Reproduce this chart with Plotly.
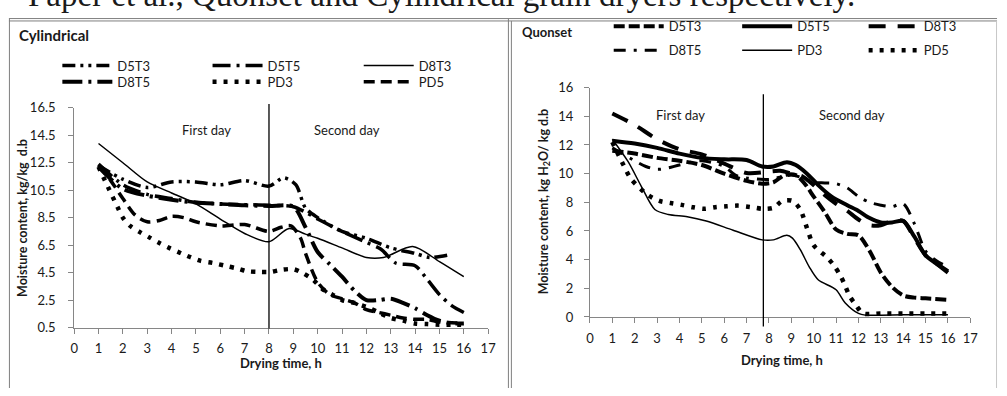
import plotly.graph_objects as go

W, H = 1007, 396

# ---------------- data: Cylindrical ----------------
series_names = ["D5T3", "D5T5", "D8T3", "D8T5", "PD3", "PD5"]

cyl_D5T3_x = [1, 2, 3, 4, 5, 6, 7, 8, 8.6, 9.1, 9.5, 10, 11, 12, 13, 14, 14.6, 15.4]
cyl_D5T3_y = [12.3, 11.3, 10.7, 11.1, 11.1, 10.9, 11.2, 10.8, 11.4, 10.9, 9.2, 8.5, 7.5, 7.0, 6.3, 5.9, 5.6, 5.8]

cyl_D5T5_x = [1, 2, 3, 4, 5, 6, 7, 8, 9, 9.5, 10, 11, 12, 12.6, 13.2, 14, 14.5, 15, 15.5, 16]
cyl_D5T5_y = [12.4, 10.9, 10.2, 9.9, 9.6, 9.5, 9.45, 9.4, 9.3, 8.9, 8.4, 7.5, 6.7, 6.2, 5.2, 5.0, 4.0, 2.9, 2.1, 1.6]

cyl_D8T3_x = [1, 2, 3, 4, 5, 6, 7, 8, 8.8, 9.5, 10, 11, 12, 12.7, 13.9, 15, 16]
cyl_D8T3_y = [13.9, 12.5, 11.1, 10.3, 9.5, 8.4, 7.35, 6.75, 7.7, 7.3, 7.0, 6.3, 5.6, 5.6, 6.4, 5.3, 4.2]

cyl_D8T5_x = [1, 2, 3, 4, 5, 6, 7, 8, 9, 9.5, 10, 10.5, 11, 11.5, 12, 12.5, 13, 13.5, 14, 14.5, 15, 15.5, 16]
cyl_D8T5_y = [12.2, 10.6, 10.1, 9.8, 9.6, 9.5, 9.4, 9.35, 9.3, 7.8, 6.0, 5.1, 4.2, 3.2, 2.5, 2.5, 2.6, 2.3, 1.9, 1.4, 1.0, 0.8, 0.8]

cyl_PD3_x = [1, 1.4, 1.8, 2, 2.3, 2.7, 3.1, 3.5, 3.9, 4.4, 4.8, 5.2, 5.7, 6.2, 6.7, 7.1, 7.6, 8.05, 8.5, 9,
             9.4, 9.8, 10.2, 10.6, 11, 11.5, 12, 12.5, 13, 13.5, 14, 14.5, 15, 15.5, 16]
cyl_PD3_y = [12.2, 10.7, 9.2, 8.5, 7.9, 7.45, 7.05, 6.65, 6.3, 5.9, 5.6, 5.35, 5.2, 5.0, 4.8, 4.6, 4.55, 4.55, 4.7, 4.75,
             4.45, 4.0, 3.3, 2.9, 2.5, 2.3, 2.0, 1.6, 1.2, 1.0, 0.8, 0.75, 0.7, 0.7, 0.7]

cyl_PD5_x = [1, 1.5, 2, 2.5, 3, 3.5, 4, 4.5, 5, 6, 7, 8, 8.5, 8.9, 9.3, 9.5, 10, 10.5, 11, 11.5, 12, 12.5,
             13, 13.5, 14, 14.5, 15, 15.5, 16]
cyl_PD5_y = [12.3, 11.2, 9.9, 8.7, 8.2, 8.3, 8.6, 8.5, 8.2, 7.9, 8.0, 7.5, 7.8, 7.9, 7.0, 5.9, 3.8, 2.9, 2.6, 2.3, 1.8, 1.6,
             1.4, 1.2, 1.1, 1.1, 0.9, 0.85, 0.8]

# ---------------- data: Quonset ----------------
q_D5T3_x = [1, 2, 3, 4, 5, 6, 7, 7.7, 8.2, 8.7, 9.2, 9.6, 10, 10.5, 11, 11.5, 12, 12.5, 13, 13.5, 14, 14.5, 15, 16]
q_D5T3_y = [11.6, 11.4, 11.1, 10.9, 10.6, 10.0, 9.5, 9.3, 9.4, 9.9, 9.9, 9.3, 8.4, 7.3, 6.1, 5.8, 5.7, 4.6, 3.1, 2.1, 1.5, 1.35, 1.3, 1.2]

q_D5T5_x = [1, 2, 3, 4, 5, 6, 7, 7.7, 8.2, 8.8, 9.2, 9.7, 10.2, 10.8, 11.5, 12, 12.5, 13, 13.5, 14, 14.5, 15, 15.5, 16]
q_D5T5_y = [12.3, 12.1, 11.8, 11.4, 11.1, 11.0, 10.95, 10.5, 10.5, 10.8, 10.6, 10.0, 9.2, 8.4, 7.8, 7.4, 6.9, 6.6, 6.6, 6.7, 5.6, 4.3, 3.7, 3.1]

q_D8T3_x = [1, 2, 3, 4, 5, 6, 7, 8, 8.5, 9, 9.5, 10, 10.5, 11, 11.5, 12, 12.5, 13, 13.5, 14, 14.5, 15, 15.5, 16]
q_D8T3_y = [14.2, 13.4, 12.4, 11.7, 11.35, 10.7, 10.05, 10.15, 10.2, 10.0, 9.8, 9.2, 8.5, 7.9, 7.4, 6.8, 6.4, 6.4, 6.7, 6.7, 5.5, 4.3, 3.7, 3.2]

q_D8T5_x = [1, 2, 2.5, 3, 3.5, 4, 5, 6, 6.5, 7, 8, 9, 9.5, 10, 10.5, 11, 11.5, 12, 12.5, 13, 13.5, 14, 14.5, 15, 15.5, 16]
q_D8T5_y = [11.8, 10.9, 10.5, 10.3, 10.4, 10.6, 10.9, 10.5, 9.9, 9.7, 9.6, 9.9, 9.7, 9.4, 9.35, 9.3, 9.0, 8.4, 8.0, 7.8, 7.7, 7.9, 6.5, 4.6, 3.9, 3.5]

q_PD3_x = [1, 1.7, 2.3, 2.9, 3.5, 4.35, 5.2, 6.4, 7.7, 8.2, 8.8, 9.05, 9.4, 9.8, 10.2, 11, 11.4, 12, 12.3, 13, 14, 15, 16]
q_PD3_y = [12.4, 10.85, 9.1, 7.5, 7.15, 7.0, 6.7, 6.05, 5.38, 5.38, 5.7, 5.5, 4.7, 3.5, 2.6, 1.9, 1.0, 0.25, 0.13, 0.13, 0.15, 0.15, 0.15]

q_PD5_x = [1, 1.5, 1.85, 2.6, 3.1, 3.6, 4.1, 4.6, 5.1, 5.6, 6.1, 6.6, 7.15, 7.7, 8.2, 8.6, 9.05, 9.4, 9.7, 10, 10.6,
           10.9, 11.2, 11.4, 11.6, 11.9, 12.2, 13, 14, 15, 16]
q_PD5_y = [12.2, 10.6, 9.6, 8.5, 8.1, 7.95, 7.82, 7.66, 7.55, 7.66, 7.72, 7.77, 7.68, 7.55, 7.62, 8.1, 8.1, 7.5, 6.2, 5.0, 4.15,
           3.6, 2.86, 2.2, 1.47, 0.8, 0.25, 0.25, 0.25, 0.25, 0.25]

x_ticks = list(range(0, 18))
cyl_y_ticks = [0.5, 2.5, 4.5, 6.5, 8.5, 10.5, 12.5, 14.5, 16.5]
q_y_ticks = [0, 2, 4, 6, 8, 10, 12, 14, 16]
cyl_day_split = 8
q_day_split = 7.75

# ---------------- styles ----------------
cyl_styles = {
    "D5T3": dict(width=3.5, dash="13px,5px,3px,5px,3px,5px"),
    "D5T5": dict(width=3.5, dash="18px,6px,3px,6px"),
    "D8T3": dict(width=1.5, dash="solid"),
    "D8T5": dict(width=4, dash="20px,6px,3px,6px"),
    "PD3": dict(width=4.5, dash="4px,7px"),
    "PD5": dict(width=3.5, dash="11px,6px"),
}
q_styles = {
    "D5T3": dict(width=4, dash="11px,4px"),
    "D5T5": dict(width=4, dash="solid"),
    "D8T3": dict(width=4, dash="17px,12px"),
    "D8T5": dict(width=3, dash="12px,8px,3px,8px"),
    "PD3": dict(width=1.5, dash="solid"),
    "PD5": dict(width=4.5, dash="4px,7px"),
}

cyl_data = {
    "D5T3": (cyl_D5T3_x, cyl_D5T3_y), "D5T5": (cyl_D5T5_x, cyl_D5T5_y),
    "D8T3": (cyl_D8T3_x, cyl_D8T3_y), "D8T5": (cyl_D8T5_x, cyl_D8T5_y),
    "PD3": (cyl_PD3_x, cyl_PD3_y), "PD5": (cyl_PD5_x, cyl_PD5_y),
}
q_data = {
    "D5T3": (q_D5T3_x, q_D5T3_y), "D5T5": (q_D5T5_x, q_D5T5_y),
    "D8T3": (q_D8T3_x, q_D8T3_y), "D8T5": (q_D8T5_x, q_D8T5_y),
    "PD3": (q_PD3_x, q_PD3_y), "PD5": (q_PD5_x, q_PD5_y),
}

FONT = "Lato"
TXT = "#1a1a1a"
AX = "#868686"

def px(x):
    return x / W

def py(y):
    return 1 - y / H

# legend placement (pixel positions of legend item start, row centre)
cyl_leg_pos = {"D5T3": (54, 60), "D5T5": (206, 60), "D8T3": (359, 60),
               "D8T5": (54, 77), "PD3": (206, 77), "PD5": (359, 77)}
q_leg_pos = {"D5T3": (612, 19), "D5T5": (742, 19), "D8T3": (870, 19),
             "D8T5": (612, 44), "PD3": (742, 44), "PD5": (870, 44)}

fig = go.Figure()
legends = {}
k = 1
for panel, data, styles, pos, xa, ya in [
    ("cyl", cyl_data, cyl_styles, cyl_leg_pos, "x", "y"),
    ("q", q_data, q_styles, q_leg_pos, "x2", "y2"),
]:
    for name in series_names:
        xs, ys = data[name]
        lname = "legend" if k == 1 else f"legend{k}"
        fig.add_trace(go.Scatter(
            x=xs, y=ys, mode="lines", name=name, xaxis=xa, yaxis=ya,
            line=dict(color="black", width=styles[name]["width"], dash=styles[name]["dash"],
                      shape="spline", smoothing=0.8),
            legend=lname, showlegend=True, hoverinfo="skip",
        ))
        lx, ly = pos[name]
        legends[lname] = dict(x=px(lx), y=py(ly), xanchor="left", yanchor="middle",
                              bgcolor="rgba(0,0,0,0)", borderwidth=0, itemwidth=50,
                              font=dict(family=FONT, size=13, color=TXT))
        k += 1

axis_common = dict(showgrid=False, zeroline=False, showline=True, linecolor=AX, linewidth=1,
                   ticks="outside", ticklen=5, tickcolor=AX, tickwidth=1,
                   tickfont=dict(family=FONT, size=13, color=TXT))

fig.update_layout(
    width=W, height=H, margin=dict(l=0, r=0, t=0, b=0),
    paper_bgcolor="white", plot_bgcolor="rgba(0,0,0,0)",
    xaxis=dict(domain=[px(71), px(490)], range=[0, 17], tickvals=x_ticks, anchor="y",
               ticklabelstandoff=4, **axis_common),
    yaxis=dict(domain=[py(333), py(104)], range=[0.5, 16.5], tickvals=cyl_y_ticks, anchor="x",
               ticklabelstandoff=10, **axis_common),
    xaxis2=dict(domain=[px(593), px(978)], range=[0, 17], tickvals=x_ticks, anchor="y2",
                ticklabelstandoff=4, **axis_common),
    yaxis2=dict(domain=[py(322), py(83)], range=[0, 16], tickvals=q_y_ticks, anchor="x2",
                ticklabelstandoff=8, **axis_common),
    **legends,
)

# frames
frame = dict(color="#7f7f7f", width=1)
shapes = [
    dict(type="line", xref="paper", yref="paper", x0=px(5), x1=px(1005), y0=py(11), y1=py(11), line=frame),
    dict(type="line", xref="paper", yref="paper", x0=px(5), x1=px(1005), y0=py(13.5), y1=py(13.5), line=frame),
    dict(type="line", xref="paper", yref="paper", x0=px(5.5), x1=px(5.5), y0=py(11), y1=py(396), line=frame),
    dict(type="line", xref="paper", yref="paper", x0=px(510.5), x1=px(510.5), y0=py(11), y1=py(396), line=frame),
    dict(type="line", xref="paper", yref="paper", x0=px(513.5), x1=px(513.5), y0=py(13.5), y1=py(396), line=frame),
    dict(type="line", xref="paper", yref="paper", x0=px(1004.5), x1=px(1004.5), y0=py(13.5), y1=py(396),
         line=dict(color="#c8c8c8", width=1)),
    dict(type="line", xref="x", yref="paper", x0=cyl_day_split, x1=cyl_day_split, y0=py(334), y1=py(100),
         line=dict(color="black", width=1.3)),
    dict(type="line", xref="x2", yref="paper", x0=q_day_split, x1=q_day_split, y0=py(332), y1=py(90),
         line=dict(color="black", width=1.3)),
]
fig.update_layout(shapes=shapes)

def ann(text, x, y, size=13, bold=False, angle=0, family=FONT, xanchor="center", yanchor="middle"):
    t = f"<b>{text}</b>" if bold else text
    return dict(text=t, x=px(x), y=py(y), xref="paper", yref="paper", showarrow=False,
                xanchor=xanchor, yanchor=yanchor, textangle=angle,
                font=dict(family=family, size=size, color=TXT))

annotations = [
    ann("Paper et al., Quonset and Cylindrical grain dryers respectively.", 22, 7, size=33,
        family="Liberation Serif", xanchor="left", yanchor="bottom"),
    ann("Cylindrical", 13, 28, size=15, bold=True, xanchor="left"),
    ann("Quonset", 522, 25, size=13, bold=True, xanchor="left"),
    ann("First day", 205, 127),
    ann("Second day", 347, 127),
    ann("First day", 685, 112),
    ann("Second day", 858, 112),
    ann("Drying time, h", 280, 370, bold=True),
    ann("Drying time, h", 787, 367, bold=True),
    ann("Moisture content, kg/kg  d.b", 18, 219, size=12.5, bold=True, angle=-90),
    ann("Moisture content, kg H<sub>2</sub>O/ kg d.b", 547, 201, size=12.5, bold=True, angle=-90),
]
fig.update_layout(annotations=annotations)

fig.write_html("out.html")
